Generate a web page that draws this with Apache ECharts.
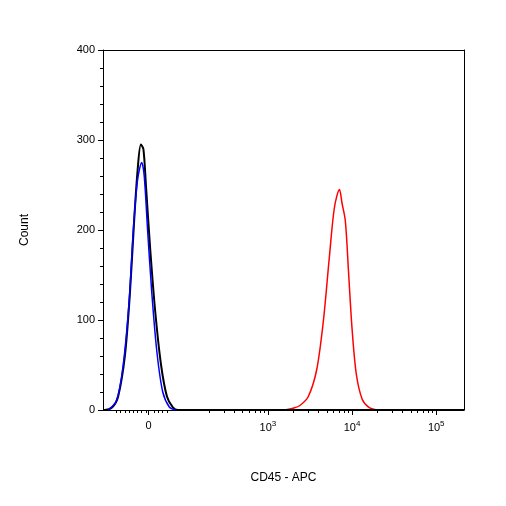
<!DOCTYPE html><html><head><meta charset="utf-8">
<script src="https://cdn.jsdelivr.net/npm/echarts@6/dist/echarts.min.js"></script>
<style>html,body{margin:0;background:#fff}#c{width:506px;height:506px}</style></head><body><div id="c"></div>
<script>
// x values are display units: 10^3 -> 3, 10^4 -> 4, 0 -> 1.58
const blackT=[1.04,1.06,1.15,1.22,1.3,1.36,1.41,1.45,1.49,1.52,1.55,1.6,1.66,1.73,1.8,1.87,1.93,5.33];
const blackY=[0,0,3,15,60,130,210,265,295,290,250,180,110,50,15,3,0,0];
const blueT=[1.1,1.2,1.28,1.35,1.4,1.45,1.5,1.53,1.57,1.62,1.68,1.75,1.83,1.9];
const blueY=[0,10,50,120,200,255,275,260,200,130,65,20,3,0];
const redT=[3.2,3.3,3.38,3.48,3.58,3.66,3.73,3.79,3.85,3.88,3.92,3.96,4.0,4.05,4.12,4.2,4.3];
const redY=[0,2,5,15,45,100,170,225,245,230,210,150,90,40,12,3,0];
const xTickVals=[1.58,3,4,5];
const xTickLabels=['0','10^3','10^4','10^5'];
const yTicks=[0,100,200,300,400];
const zip=(a,b)=>a.map((v,i)=>[v,b[i]]);
const minor=[];
[1.2,1.25,1.3,1.35,1.4,1.45,1.5,1.55,1.65,1.7,1.75,1.8].forEach(v=>minor.push(v));
[2,3].forEach(d=>{for(let k=2;k<10;k++)minor.push(d+Math.log10(k));});
[3,4].forEach(d=>{for(let k=2;k<10;k++)minor.push(d+Math.log10(k));});
const c=echarts.init(document.getElementById('c'));
const lab=v=>{const i=xTickVals.indexOf(v);const s=xTickLabels[i];return s.includes('^')?'{b|'+s.split('^')[0]+'}{s|'+s.split('^')[1]+'}':'{b|'+s+'}';};
c.setOption({animation:false,
grid:{left:103,right:42,top:50,bottom:96},
xAxis:[{type:'value',min:1.04,max:5.33,name:'CD45 - APC',nameLocation:'middle',nameGap:62,
 nameTextStyle:{fontFamily:'Liberation Sans',fontSize:12,color:'#000'},
 axisLine:{show:true,lineStyle:{color:'#000'}},splitLine:{show:false},
 axisTick:{customValues:xTickVals,length:5,lineStyle:{color:'#000'}},
 axisLabel:{customValues:xTickVals,formatter:lab,margin:10,
  rich:{b:{fontFamily:'Liberation Sans',fontSize:11,color:'#000'},s:{fontFamily:'Liberation Sans',fontSize:8,color:'#000',verticalAlign:'top',padding:[0,0,8,0]}}}},
 {type:'value',min:1.04,max:5.33,position:'bottom',axisLine:{show:false},splitLine:{show:false},
 axisTick:{customValues:minor,length:3,lineStyle:{color:'#000'}},axisLabel:{show:false}},
 {type:'value',min:1.04,max:5.33,position:'top',axisLine:{show:true,lineStyle:{color:'#000'}},axisTick:{show:false},axisLabel:{show:false},splitLine:{show:false}}],
yAxis:[{type:'value',min:0,max:400,interval:100,name:'Count',nameLocation:'middle',nameGap:72,
 nameTextStyle:{fontFamily:'Liberation Sans',fontSize:12,color:'#000'},
 axisLine:{show:true,lineStyle:{color:'#000'}},splitLine:{show:false},
 axisTick:{length:5,lineStyle:{color:'#000'}},minorTick:{show:true,splitNumber:5,length:3,lineStyle:{color:'#000'}},
 axisLabel:{fontFamily:'Liberation Sans',fontSize:11,color:'#000',margin:8,customValues:yTicks}},
 {type:'value',min:0,max:400,position:'right',axisLine:{show:true,lineStyle:{color:'#000'}},axisTick:{show:false},axisLabel:{show:false},splitLine:{show:false}}],
series:[
 {type:'line',data:zip(redT,redY),smooth:0.3,showSymbol:false,lineStyle:{color:'#ff0000',width:1.5}},
 {type:'line',data:zip(blackT,blackY),smooth:0.3,showSymbol:false,lineStyle:{color:'#000',width:2}},
 {type:'line',data:zip(blueT,blueY),smooth:0.3,showSymbol:false,lineStyle:{color:'#0000ff',width:1.5}}
]});
</script></body></html>
